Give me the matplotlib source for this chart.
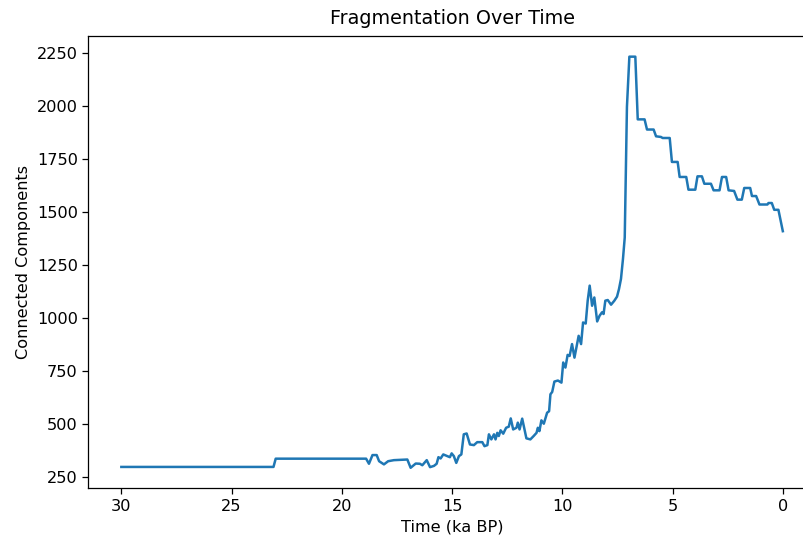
import matplotlib
matplotlib.use("Agg")
import matplotlib.pyplot as plt

# Connected components through time (ka BP), read as breakpoints of the series
time_ka = [
    30.0, 23.1, 23.0, 18.9, 18.77, 18.61, 18.42, 18.31, 18.09, 17.9, 17.64, 17.03,
    16.88, 16.65, 16.46, 16.35, 16.15, 16.0, 15.82, 15.7, 15.62, 15.52, 15.4, 15.22,
    15.1, 15.02, 14.92, 14.81, 14.69, 14.58, 14.47, 14.34, 14.19, 14.01, 13.86, 13.63,
    13.53, 13.4, 13.33, 13.22, 13.1, 13.03, 12.95, 12.88, 12.8, 12.68, 12.55, 12.43,
    12.34, 12.23, 12.08, 12.02, 11.94, 11.82, 11.75, 11.63, 11.45, 11.3, 11.17, 11.11,
    11.04, 10.95, 10.84, 10.69, 10.6, 10.54, 10.46, 10.36, 10.2, 10.04, 9.96, 9.86,
    9.76, 9.67, 9.56, 9.45, 9.36, 9.26, 9.15, 9.06, 8.94, 8.85, 8.76, 8.65,
    8.55, 8.42, 8.31, 8.2, 8.13, 8.05, 7.94, 7.79, 7.64, 7.52, 7.43, 7.34,
    7.25, 7.17, 7.07, 6.96, 6.69, 6.58, 6.27, 6.16, 5.86, 5.75, 5.53, 5.45,
    5.13, 5.03, 4.77, 4.68, 4.38, 4.28, 3.97, 3.87, 3.67, 3.56, 3.26, 3.14,
    2.87, 2.76, 2.57, 2.46, 2.21, 2.06, 1.86, 1.75, 1.48, 1.4, 1.21, 1.06,
    0.7, 0.65, 0.5, 0.39, 0.2, 0.0,
]
components = [
    297, 297, 336, 336, 312, 353, 353, 324, 309, 324, 329, 332,
    293, 313, 312, 305, 329, 296, 302, 312, 343, 337, 356, 348,
    343, 361, 348, 316, 348, 356, 451, 455, 403, 400, 414, 414,
    395, 400, 451, 427, 451, 427, 458, 443, 470, 454, 482, 487,
    526, 474, 482, 506, 474, 525, 490, 432, 427, 443, 458, 482,
    466, 517, 501, 553, 560, 640, 651, 700, 705, 695, 790, 766,
    826, 821, 877, 813, 861, 916, 877, 979, 974, 1082, 1153, 1058,
    1097, 984, 1011, 1027, 1019, 1082, 1085, 1063, 1082, 1101, 1137, 1185,
    1279, 1380, 1997, 2234, 2234, 1938, 1938, 1890, 1890, 1858, 1855, 1850,
    1850, 1737, 1737, 1666, 1666, 1606, 1606, 1669, 1669, 1634, 1634, 1603,
    1603, 1666, 1666, 1603, 1600, 1559, 1559, 1614, 1614, 1576, 1576, 1536,
    1536, 1543, 1543, 1511, 1511, 1410,
]

fig = plt.figure(figsize=(8.04, 5.39), dpi=100)
# the axes runs past the right edge of the canvas
ax = fig.add_axes([0.1098, 0.094, 0.905, 0.839])

ax.plot(time_ka, components, color="tab:blue", linewidth=1.8)
ax.invert_xaxis()

ax.set_title("Fragmentation Over Time", fontsize=13.8, pad=9)
ax.set_xlabel("Time (ka BP)", fontsize=11.6)
ax.set_ylabel("Connected Components", fontsize=11.6)
ax.tick_params(labelsize=11.6, length=4, width=0.9)
ax.set_yticks([250, 500, 750, 1000, 1250, 1500, 1750, 2000, 2250])
for s in ax.spines.values():
    s.set_linewidth(0.9)
ax.spines["right"].set_visible(False)

fig.savefig("out.png", dpi=100)
